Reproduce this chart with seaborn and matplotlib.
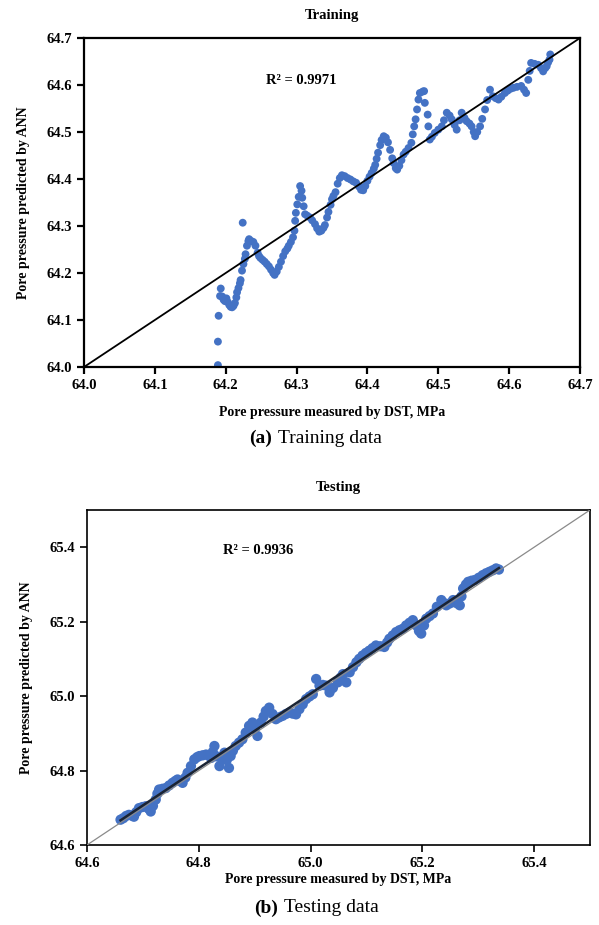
import numpy as np
import pandas as pd
import matplotlib
matplotlib.use("Agg")
import matplotlib.pyplot as plt
import seaborn as sns
from matplotlib.ticker import FormatStrFormatter

# ---------------- data ----------------
train_measured = [
    64.189, 64.189, 64.190, 64.192, 64.193, 64.195, 64.197, 64.199, 64.201, 64.203,
    64.205, 64.207, 64.209, 64.211, 64.213, 64.215, 64.216, 64.218, 64.220, 64.221,
    64.223, 64.225, 64.227, 64.228, 64.230, 64.232, 64.233, 64.224, 64.236, 64.239,
    64.242, 64.245, 64.247, 64.249, 64.252, 64.255, 64.258, 64.261, 64.264, 64.267,
    64.269, 64.272, 64.275, 64.278, 64.281, 64.284, 64.287, 64.289, 64.292, 64.295,
    64.297, 64.298, 64.299, 64.301, 64.303, 64.305, 64.307, 64.308, 64.310, 64.312,
    64.315, 64.319, 64.322, 64.326, 64.329, 64.332, 64.335, 64.338, 64.340, 64.343,
    64.345, 64.348, 64.350, 64.352, 64.355, 64.358, 64.361, 64.364, 64.368, 64.372,
    64.376, 64.380, 64.384, 64.388, 64.391, 64.394, 64.397, 64.400, 64.403, 64.406,
    64.409, 64.411, 64.413, 64.415, 64.418, 64.420, 64.423, 64.426, 64.429, 64.432,
    64.435, 64.437, 64.440, 64.442, 64.445, 64.448, 64.451, 64.454, 64.458, 64.462,
    64.464, 64.466, 64.468, 64.470, 64.472, 64.474, 64.478, 64.480, 64.481, 64.485,
    64.486, 64.488, 64.491, 64.495, 64.500, 64.505, 64.508, 64.512, 64.516, 64.519,
    64.523, 64.526, 64.530, 64.533, 64.537, 64.540, 64.544, 64.547, 64.550, 64.552,
    64.555, 64.559, 64.562, 64.566, 64.569, 64.573, 64.577, 64.581, 64.585, 64.589,
    64.594, 64.598, 64.602, 64.606, 64.611, 64.617, 64.621, 64.624, 64.627, 64.629,
    64.631, 64.636, 64.641, 64.645, 64.648, 64.651, 64.653, 64.655, 64.657, 64.658,
]
train_predicted = [
    64.004, 64.054, 64.109, 64.151, 64.167, 64.150, 64.143, 64.140, 64.146, 64.138,
    64.132, 64.128, 64.127, 64.130, 64.136, 64.148, 64.159, 64.168, 64.178, 64.185,
    64.205, 64.219, 64.230, 64.240, 64.258, 64.268, 64.272, 64.307, 64.268, 64.266,
    64.258, 64.243, 64.236, 64.232, 64.228, 64.224, 64.219, 64.214, 64.207, 64.200,
    64.196, 64.203, 64.213, 64.224, 64.236, 64.246, 64.252, 64.258, 64.266, 64.276,
    64.290, 64.311, 64.328, 64.346, 64.362, 64.385, 64.375, 64.360, 64.342, 64.325,
    64.322, 64.318, 64.312, 64.304, 64.295, 64.288, 64.290, 64.296, 64.302, 64.318,
    64.330, 64.345, 64.357, 64.364, 64.372, 64.390, 64.402, 64.408, 64.406, 64.402,
    64.399, 64.395, 64.392, 64.384, 64.377, 64.376, 64.385, 64.396, 64.405, 64.413,
    64.422, 64.430, 64.443, 64.456, 64.472, 64.483, 64.491, 64.488, 64.478, 64.462,
    64.444, 64.434, 64.423, 64.420, 64.428, 64.440, 64.452, 64.458, 64.466, 64.477,
    64.495, 64.512, 64.527, 64.548, 64.569, 64.583, 64.586, 64.587, 64.562, 64.537,
    64.512, 64.484, 64.490, 64.498, 64.505, 64.512, 64.525, 64.541, 64.535, 64.527,
    64.515, 64.505, 64.525, 64.541, 64.530, 64.523, 64.518, 64.512, 64.500, 64.491,
    64.500, 64.512, 64.528, 64.548, 64.568, 64.590, 64.576, 64.572, 64.569, 64.575,
    64.583, 64.588, 64.592, 64.594, 64.596, 64.598, 64.590, 64.583, 64.611, 64.630,
    64.647, 64.645, 64.643, 64.636, 64.629, 64.636, 64.640, 64.648, 64.654, 64.665,
]

test_measured = [
    64.660, 64.665, 64.670, 64.675, 64.680, 64.684, 64.688, 64.693, 64.699, 64.705,
    64.710, 64.714, 64.718, 64.723, 64.726, 64.729, 64.735, 64.741, 64.747, 64.753,
    64.758, 64.762, 64.767, 64.771, 64.776, 64.780, 64.786, 64.792, 64.797, 64.801,
    64.807, 64.813, 64.818, 64.822, 64.825, 64.828, 64.832, 64.837, 64.841, 64.846,
    64.850, 64.854, 64.857, 64.861, 64.866, 64.872, 64.878, 64.884, 64.890, 64.896,
    64.900, 64.905, 64.911, 64.916, 64.920, 64.926, 64.932, 64.938, 64.944, 64.950,
    64.956, 64.962, 64.968, 64.974, 64.980, 64.986, 64.992, 64.998, 65.004, 65.010,
    65.016, 65.022, 65.028, 65.034, 65.040, 65.049, 65.054, 65.058, 65.064, 65.070,
    65.076, 65.082, 65.087, 65.093, 65.099, 65.105, 65.111, 65.117, 65.125, 65.132,
    65.137, 65.141, 65.147, 65.153, 65.159, 65.165, 65.171, 65.177, 65.183, 65.189,
    65.194, 65.198, 65.203, 65.207, 65.213, 65.219, 65.226, 65.234, 65.239, 65.243,
    65.249, 65.255, 65.261, 65.267, 65.270, 65.273, 65.278, 65.282, 65.288, 65.294,
    65.301, 65.308, 65.314, 65.320, 65.326, 65.332, 65.337,
]
test_predicted = [
    64.668, 64.672, 64.678, 64.681, 64.679, 64.676, 64.688, 64.699, 64.702, 64.704,
    64.698, 64.690, 64.705, 64.722, 64.738, 64.749, 64.751, 64.753, 64.760, 64.767,
    64.772, 64.776, 64.772, 64.767, 64.781, 64.794, 64.812, 64.830, 64.836, 64.839,
    64.841, 64.843, 64.840, 64.834, 64.850, 64.866, 64.838, 64.812, 64.832, 64.848,
    64.828, 64.807, 64.839, 64.853, 64.866, 64.875, 64.884, 64.902, 64.920, 64.929,
    64.912, 64.893, 64.929, 64.945, 64.960, 64.969, 64.952, 64.938, 64.943, 64.947,
    64.952, 64.956, 64.953, 64.951, 64.965, 64.978, 64.992, 64.999, 65.005, 65.046,
    65.028, 65.030, 65.028, 65.010, 65.022, 65.037, 65.050, 65.059, 65.037, 65.064,
    65.078, 65.091, 65.100, 65.109, 65.116, 65.122, 65.129, 65.136, 65.134, 65.132,
    65.144, 65.154, 65.163, 65.172, 65.177, 65.181, 65.190, 65.197, 65.204, 65.190,
    65.175, 65.168, 65.190, 65.208, 65.215, 65.222, 65.240, 65.258, 65.250, 65.244,
    65.249, 65.258, 65.250, 65.244, 65.268, 65.289, 65.300, 65.307, 65.310, 65.312,
    65.318, 65.325, 65.330, 65.334, 65.338, 65.343, 65.340,
]

train_limits = [64.0, 64.7]
test_limits = [64.6, 65.5]
train_ticks = [64.0, 64.1, 64.2, 64.3, 64.4, 64.5, 64.6, 64.7]
test_ticks = [64.6, 64.8, 65.0, 65.2, 65.4]
train_r2 = "R² = 0.9971"
test_r2 = "R² = 0.9936"

# ---------------- style ----------------
plt.rcParams['font.family'] = ['Liberation Serif', 'DejaVu Serif']
plt.rcParams['font.weight'] = 'bold'
BLUE = '#4472C4'

W, H = 599, 925
fig = plt.figure(figsize=(W / 100, H / 100), dpi=100)

def px_box(l, t, r, b):
    return [l / W, 1 - b / H, (r - l) / W, (b - t) / H]

ax1 = fig.add_axes(px_box(84, 38, 580, 367))
ax2 = fig.add_axes(px_box(87, 510, 590, 845))

df_train = pd.DataFrame({'measured': train_measured, 'predicted': train_predicted})
df_test = pd.DataFrame({'measured': test_measured, 'predicted': test_predicted})

# --- training ---
sns.scatterplot(data=df_train, x='measured', y='predicted', ax=ax1, color=BLUE,
                s=32, edgecolor='none', linewidth=0, zorder=2)
ax1.plot(train_limits, train_limits, color='black', lw=1.3, zorder=3)
ax1.set_xlim(train_limits)
ax1.set_ylim(train_limits)
ax1.set_xticks(train_ticks)
ax1.set_yticks(train_ticks)
ax1.text(64.306, 64.61, train_r2, ha='center', va='center', fontsize=10.5,
         fontweight='bold')
ax1.set_title('Training', fontsize=10.5, fontweight='bold', pad=14)

# --- testing ---
sns.scatterplot(data=df_test, x='measured', y='predicted', ax=ax2, color=BLUE,
                s=55, edgecolor='none', linewidth=0, zorder=2)
ax2.plot(test_limits, test_limits, color='#8a8a8a', lw=0.9, zorder=3)
coef = np.polyfit(df_test['measured'], df_test['predicted'], 1)
xr = np.array([df_test['measured'].min(), df_test['measured'].max()])
ax2.plot(xr, np.polyval(coef, xr), color='#1b2433', lw=1.8, zorder=4)
ax2.set_xlim(test_limits)
ax2.set_ylim(test_limits)
ax2.set_xticks(test_ticks)
ax2.set_yticks(test_ticks)
ax2.text(64.906, 65.392, test_r2, ha='center', va='center', fontsize=10.5,
         fontweight='bold')
ax2.set_title('Testing', fontsize=10.5, fontweight='bold', pad=14)

for ax, lw in ((ax1, 1.6), (ax2, 1.2)):
    for sp in ax.spines.values():
        sp.set_visible(True)
        sp.set_color('black')
        sp.set_linewidth(lw)
    ax.xaxis.set_major_formatter(FormatStrFormatter('%.1f'))
    ax.yaxis.set_major_formatter(FormatStrFormatter('%.1f'))
    ax.tick_params(direction='out', length=5, width=lw, labelsize=10.5,
                   colors='black')
    for lab in ax.get_xticklabels() + ax.get_yticklabels():
        lab.set_fontweight('bold')
    ax.set_ylabel('Pore pressure predicted by ANN', fontsize=10,
                  fontweight='bold', labelpad=12)
    ax.grid(False)
    ax.set_facecolor('white')

ax1.set_xlabel('Pore pressure measured by DST, MPa', fontsize=10,
               fontweight='bold', labelpad=10)
ax2.set_xlabel('Pore pressure measured by DST, MPa', fontsize=10,
               fontweight='bold', labelpad=2)

# captions
fig.text(272 / W, 1 - 438 / H, '(a)', ha='right', va='center', fontsize=14,
         fontweight='bold')
fig.text(278 / W, 1 - 438 / H, 'Training data', ha='left', va='center',
         fontsize=14, fontweight='normal')
fig.text(278 / W, 1 - 908 / H, '(b)', ha='right', va='center', fontsize=14,
         fontweight='bold')
fig.text(284 / W, 1 - 908 / H, 'Testing data', ha='left', va='center',
         fontsize=14, fontweight='normal')

fig.savefig('out.png', dpi=100, facecolor='white')
